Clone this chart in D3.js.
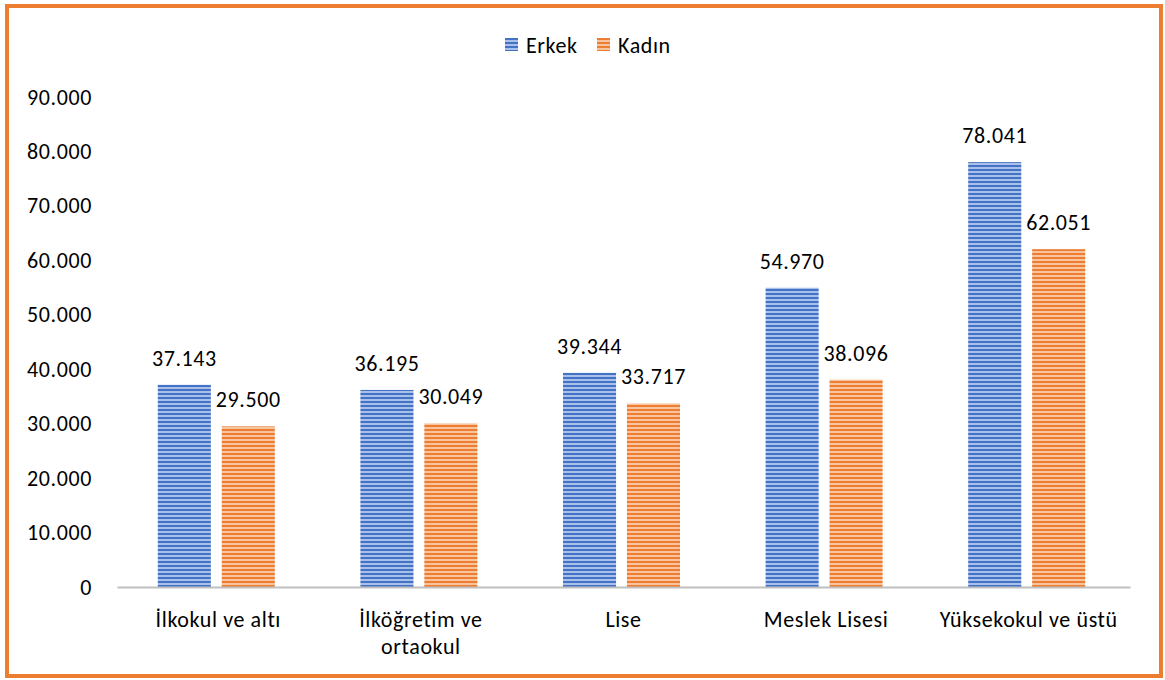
<!DOCTYPE html>
<html>
<head>
<meta charset="utf-8">
<script src="https://cdn.jsdelivr.net/npm/d3@7"></script>
<style>
  body { margin: 0; background: #fff; }
  svg { display: block; font-family: Carlito, "Liberation Sans", "Open Sans", sans-serif; letter-spacing: 0.6px; }
</style>
</head>
<body>
<svg id="chart"></svg>
<script>
const width = 1165, height = 680

const categories = ['İlkokul ve altı', 'İlköğretim ve ortaokul', 'Lise', 'Meslek Lisesi', 'Yüksekokul ve üstü']
const seriesNames = ['Erkek', 'Kadın']
const erkek = [37143, 36195, 39344, 54970, 78041]
const kadin = [29500, 30049, 33717, 38096, 62051]
const yTicks = [0, 10000, 20000, 30000, 40000, 50000, 60000, 70000, 80000, 90000]

const colors = { 'Erkek': ['#4472c4', '#a9c0ea'], 'Kadın': ['#ed7d31', '#f8c4a0'] }
const fontSize = 22

const fmt = v => d3.format(',')(v).replace(/,/g, '.')

const svg = d3.select('svg#chart')
    .attr('width', width)
    .attr('height', height)

// striped fills
const defs = svg.append('defs')
seriesNames.forEach((s, i) => {
    const p = defs.append('pattern')
      .attr('id', 'stripe' + i)
      .attr('patternUnits', 'userSpaceOnUse')
      .attr('width', 8).attr('height', 4)
    p.append('rect').attr('width', 8).attr('height', 4).attr('fill', colors[s][1])
    p.append('rect').attr('width', 8).attr('height', 2).attr('fill', colors[s][0])
})

// outer frame
svg.append('rect')
    .attr('x', 7).attr('y', 6)
    .attr('width', 1154).attr('height', 670)
    .attr('fill', 'none')
    .attr('stroke', '#ed7d31')
    .attr('stroke-width', 4)

const margin = { top: 97, right: 35, bottom: 93, left: 117 }
const innerWidth = width - margin.left - margin.right
const innerHeight = height - margin.top - margin.bottom
const groupWidth = 117

const xScale = d3.scaleBand()
    .domain(categories)
    .range([0, innerWidth])

const xInner = d3.scaleBand()
    .domain(seriesNames)
    .range([0, groupWidth])
    .paddingInner(0.17)

const yScale = d3.scaleLinear()
    .domain([0, 90000])
    .range([innerHeight, 0])

const g = svg.append('g')
    .attr('transform', `translate(${margin.left}, ${margin.top})`)

// y axis labels
const yAxis = g.append('g')
    .call(d3.axisLeft(yScale).tickValues(yTicks).tickFormat(fmt).tickSize(0).tickPadding(25))
    .attr('font-family', null)
    .attr('font-size', null)
yAxis.select('.domain').remove()
yAxis.selectAll('text').attr('font-size', fontSize).attr('fill', '#000')

const data = categories.map((c, i) => ({ cat: c, values: [
    { s: 'Erkek', v: erkek[i] }, { s: 'Kadın', v: kadin[i] }
]}))

const groups = g.selectAll('g.cat').data(data)
    .enter().append('g')
      .attr('class', 'cat')
      .attr('transform', d => `translate(${xScale(d.cat) + (xScale.bandwidth() - groupWidth) / 2 - 2}, 0)`)

groups.selectAll('rect').data(d => d.values)
    .enter().append('rect')
      .attr('x', d => xInner(d.s))
      .attr('y', d => yScale(d.v))
      .attr('width', xInner.bandwidth())
      .attr('height', d => innerHeight - yScale(d.v))
      .attr('fill', (d, i) => `url(#stripe${i})`)

groups.selectAll('text.val').data(d => d.values)
    .enter().append('text')
      .attr('class', 'val')
      .attr('x', d => xInner(d.s) + xInner.bandwidth() / 2)
      .attr('y', d => yScale(d.v) - 19)
      .attr('text-anchor', 'middle')
      .attr('font-size', fontSize)
      .text(d => fmt(d.v))

// x axis
const xAxis = g.append('g')
    .attr('transform', `translate(0, ${innerHeight})`)
    .call(d3.axisBottom(xScale).tickSize(0).tickPadding(24))
    .attr('font-family', null)
    .attr('font-size', null)
xAxis.select('.domain').attr('stroke', '#bfbfbf').attr('stroke-width', 2)
xAxis.selectAll('text')
    .attr('font-size', fontSize).attr('fill', '#000')
    .each(function (d) {
        const t = d3.select(this)
        if (d === 'İlköğretim ve ortaokul') {
            t.text(null)
            t.append('tspan').attr('x', 0).attr('dy', '0.71em').text('İlköğretim ve')
            t.append('tspan').attr('x', 0).attr('dy', '1.23em').text('ortaokul')
            t.attr('dy', null)
        }
    })

// legend
const legend = svg.append('g').attr('transform', 'translate(505, 38)')
const li = legend.selectAll('g').data(seriesNames)
    .enter().append('g')
      .attr('transform', (d, i) => `translate(${i * 92}, 0)`)
li.append('rect')
    .attr('width', 13).attr('height', 13)
    .attr('fill', (d, i) => `url(#stripe${i})`)
li.append('text')
    .attr('x', 21).attr('y', 7)
    .attr('dy', '0.35em')
    .attr('font-size', fontSize)
    .text(d => d)
</script>
</body>
</html>
